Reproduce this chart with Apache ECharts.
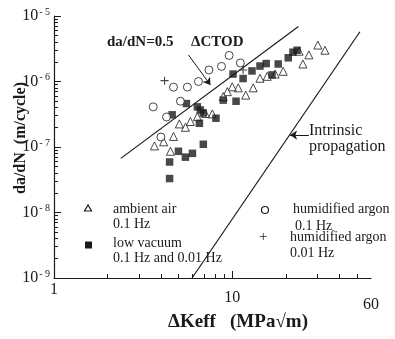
<!DOCTYPE html>
<html>
<head>
<meta charset="utf-8">
<script src="https://cdn.jsdelivr.net/npm/echarts@6/dist/echarts.min.js"></script>
<style>
  html, body { margin: 0; padding: 0; background: #fff; }
  #chart { width: 395px; height: 339px; }
</style>
</head>
<body>
<div id="chart"></div>
<script>
// [ΔKeff (MPa√m), da/dN (m/cycle)]
const ambientAir = [
  [30.2, 3.6e-6], [33.1, 3.0e-6], [26.9, 2.55e-6], [23.7, 2.9e-6], [24.9, 1.85e-6],
  [19.3, 1.43e-6], [17.4, 1.3e-6], [15.7, 1.2e-6], [14.3, 1.12e-6], [13.1, 8.0e-7],
  [11.9, 6.2e-7], [10.8, 8.0e-7], [10.0, 8.3e-7], [9.38, 7.0e-7], [8.9, 5.9e-7],
  [7.73, 3.2e-7], [7.06, 3.25e-7], [6.37, 2.9e-7], [5.82, 2.45e-7], [5.46, 2.0e-7],
  [5.05, 2.25e-7], [4.68, 1.45e-7], [4.12, 1.2e-7], [3.66, 1.04e-7], [4.5, 8.6e-8]
]
const lowVacuum = [
  [23.1, 3.0e-6], [21.9, 2.8e-6], [20.6, 2.3e-6], [18.1, 1.85e-6], [15.5, 1.88e-6],
  [14.3, 1.72e-6], [12.9, 1.45e-6], [11.5, 1.11e-6], [10.1, 1.3e-6], [16.7, 1.26e-6],
  [8.9, 5.2e-7], [10.5, 5.0e-7], [8.1, 2.75e-7], [6.37, 4.1e-7], [6.62, 3.67e-7],
  [5.53, 4.6e-7], [6.54, 2.3e-7], [4.6, 3.1e-7], [6.88, 1.1e-7], [4.99, 8.6e-8],
  [5.46, 7.0e-8], [5.98, 8.0e-8], [4.45, 5.9e-8], [4.45, 3.3e-8], [6.88, 3.3e-7]
]
const humidArgon01 = [
  [9.6, 2.5e-6], [11.1, 1.92e-6], [8.7, 1.7e-6], [7.4, 1.5e-6], [6.46, 1.0e-6],
  [5.6, 8.2e-7], [4.68, 8.2e-7], [5.12, 5.0e-7], [3.6, 4.1e-7], [4.28, 2.87e-7],
  [3.98, 1.42e-7]
]
const humidArgon001 = [[4.17, 1.03e-6], [11.5, 1.5e-6]]

// reference lines
const ctodLine = [[2.37, 6.7e-8], [23.5, 6.9e-6]]
const intrinsicLine = [[5.95, 1e-9], [52, 5.75e-6]]
// annotation arrows
const ctodArrow = [[5.68, 2.54e-6], [7.54, 8.85e-7]]
const intrinsicArrow = [[26.9, 1.52e-7], [21.1, 1.52e-7]]

// ticks
const xLabels = [1, 10, 60]
const xMajorTicks = [10]
const xMinorTicks = [2, 3, 4, 5, 6, 7, 8, 9, 20, 30, 40, 50]
const yDecades = [1e-9, 1e-8, 1e-7, 1e-6, 1e-5]
const yMinorTicks = []
yDecades.slice(0, 4).forEach(d => {
  for (let m = 2; m <= 9; m++) yMinorTicks.push(+(d * m).toPrecision(3))
})

const serif = 'Liberation Serif'
const ink = '#1a1a1a'
const X_MIN = 1, Y_MIN = 1e-9
// tick lengths as ratios along the log axes (x decade ~179px, y decade ~65px)
const X_LONG = 1.28, X_SHORT = 1.15   // x-axis ticks, stretched along y
const Y_LONG = 1.094, Y_SHORT = 1.053 // y-axis ticks, stretched along x

const chart = echarts.init(document.getElementById('chart'))

function tickCoords(values, dir, ratio) {
  return values.map(v => ({
    coords: dir === 'x'
      ? [[v, Y_MIN], [v, Y_MIN * ratio]]
      : [[X_MIN, v], [X_MIN * ratio, v]],
  }))
}

const tickData = [].concat(
  tickCoords(xMajorTicks, 'x', X_LONG),
  tickCoords(xMinorTicks, 'x', X_SHORT),
  tickCoords(yDecades, 'y', Y_LONG),
  tickCoords(yMinorTicks, 'y', Y_SHORT)
)

const scatterBase = {
  type: 'scatter',
  symbolSize: 8,
  z: 3,
}

const option = {
  backgroundColor: '#fff',
  animation: false,
  grid: { left: 54, right: 24, top: 16, bottom: 61 },
  xAxis: {
    type: 'log', logBase: 10, min: 1, max: 60, position: 'bottom',
    axisLine: { onZero: false, lineStyle: { color: ink, width: 1.2 } },
    axisTick: { show: false },
    axisLabel: {
      customValues: xLabels, margin: 4,
      formatter: v => (v === 1 ? '{a|1}' : v === 10 ? '{b|10}' : '{c|60}'),
      rich: {
        a: { fontFamily: serif, fontSize: 16, color: ink },
        b: { fontFamily: serif, fontSize: 16, color: ink, padding: [8, 0, 0, 0] },
        c: { fontFamily: serif, fontSize: 16, color: ink, padding: [15, 0, 0, 0] },
      },
    },
    splitLine: { show: false },
  },
  yAxis: {
    type: 'log', logBase: 10, min: 1e-9, max: 1e-5, position: 'left',
    axisLine: { onZero: false, lineStyle: { color: ink, width: 1.2 } },
    axisTick: { show: false },
    axisLabel: {
      customValues: yDecades, margin: 4,
      formatter: v => '{n|10}{s|- ' + (-Math.round(Math.log10(v))) + '}',
      rich: {
        n: { fontFamily: serif, fontSize: 16, color: ink, lineHeight: 18 },
        s: { fontFamily: serif, fontSize: 10, color: ink, verticalAlign: 'top', padding: [0, 0, 0, 1] },
      },
    },
    splitLine: { show: false },
  },
  series: [
    {
      name: 'ticks', type: 'lines', coordinateSystem: 'cartesian2d', z: 5, silent: true,
      clip: false, symbol: 'none',
      lineStyle: { color: ink, width: 1, opacity: 1 },
      data: tickData,
    },
    {
      name: 'ctod', type: 'line', data: ctodLine, symbol: 'none', z: 2,
      lineStyle: { color: ink, width: 1.2 },
    },
    {
      name: 'intrinsic', type: 'line', data: intrinsicLine, symbol: 'none', z: 2,
      lineStyle: { color: ink, width: 1.2 },
    },
    {
      type: 'lines', coordinateSystem: 'cartesian2d', z: 2,
      symbol: ['none', 'arrow'], symbolSize: 7,
      lineStyle: { color: ink, width: 1, opacity: 1 },
      data: [{ coords: ctodArrow }, { coords: intrinsicArrow }],
    },
    {
      ...scatterBase, name: 'ambient air', symbol: 'triangle', data: ambientAir,
      itemStyle: { color: '#fff', borderColor: ink, borderWidth: 1 },
    },
    {
      ...scatterBase, name: 'low vacuum', symbol: 'rect', symbolSize: 7.5, data: lowVacuum,
      itemStyle: { color: ink },
    },
    {
      ...scatterBase, name: 'humidified argon 0.1 Hz', symbol: 'circle', data: humidArgon01,
      itemStyle: { color: '#fff', borderColor: ink, borderWidth: 1 },
    },
    {
      ...scatterBase, name: 'humidified argon 0.01 Hz', data: humidArgon001,
      symbol: 'path://M4.3,0h1.4v4.3h4.3v1.4h-4.3v4.3h-1.4v-4.3h-4.3v-1.4h4.3z',
      symbolSize: 8, itemStyle: { color: ink },
    },
  ],
  graphic: [
    // annotations
    { type: 'text', left: 107, top: 35, style: { text: 'da/dN=0.5', font: 'bold 15px "Liberation Serif"', fill: ink } },
    { type: 'text', left: 191, top: 35, style: { text: '\u0394CTOD', font: 'bold 15px "Liberation Serif"', fill: ink } },
    { type: 'text', left: 309, top: 123, style: { text: 'Intrinsic\npropagation', font: '16px "Liberation Serif"', lineHeight: 16, fill: ink } },
    // axis names
    {
      type: 'text', x: 21, y: 138, rotation: Math.PI / 2,
      style: {
        text: 'da/dN  (m/cycle)', font: 'bold 16px "Liberation Serif"', fill: ink,
        align: 'center', verticalAlign: 'middle',
      },
    },
    {
      type: 'text', x: 238, y: 322,
      style: {
        text: '\u0394Keff   (MPa\u221Am)', font: 'bold 19px "Liberation Serif"', fill: ink,
        align: 'center', verticalAlign: 'middle',
      },
    },
    // legend
    { type: 'polygon', shape: { points: [[88, 205], [84.5, 211], [91.5, 211]] }, style: { fill: '#fff', stroke: ink, lineWidth: 1.2 } },
    { type: 'text', left: 113, top: 202, style: { text: 'ambient air\n0.1 Hz', font: '14px "Liberation Serif"', lineHeight: 15, fill: ink } },
    { type: 'rect', shape: { x: 85, y: 241.5, width: 7, height: 7 }, style: { fill: ink } },
    { type: 'text', left: 113, top: 236, style: { text: 'low vacuum\n0.1 Hz and 0.01 Hz', font: '14px "Liberation Serif"', lineHeight: 15, fill: ink } },
    { type: 'circle', shape: { cx: 265, cy: 210, r: 3.5 }, style: { fill: '#fff', stroke: ink, lineWidth: 1.2 } },
    { type: 'text', left: 293, top: 202, style: { text: 'humidified argon', font: '14px "Liberation Serif"', fill: ink } },
    { type: 'text', left: 295, top: 219, style: { text: '0.1 Hz', font: '14px "Liberation Serif"', fill: ink } },
    { type: 'text', left: 259, top: 230, style: { text: '+', font: '15px "Liberation Serif"', fill: ink } },
    { type: 'text', left: 290, top: 229, style: { text: 'humidified argon\n0.01 Hz', font: '14px "Liberation Serif"', lineHeight: 16, fill: ink } },
  ],
}

option && chart.setOption(option)
</script>
</body>
</html>
